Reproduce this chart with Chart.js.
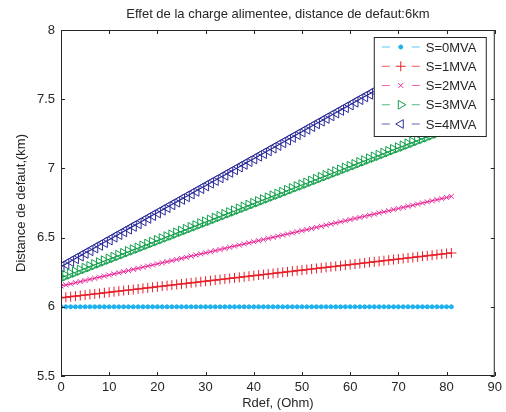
<!DOCTYPE html>
<html>
<head>
<meta charset="utf-8">
<script src="https://cdn.jsdelivr.net/npm/chart.js@4"></script>
<style>
  html, body { margin: 0; padding: 0; background: #fff; }
  #wrap { width: 506px; height: 412px; }
</style>
</head>
<body>
<div id="wrap"><canvas id="chart" width="506" height="412"></canvas></div>
<script>
// Rdef values (Ohm)
const rdef = [0,1,2,3,4,5,6,7,8,9,10,11,12,13,14,15,16,17,18,19,20,21,22,23,24,25,26,27,28,29,30,31,32,33,34,35,36,37,38,39,40,41,42,43,44,45,46,47,48,49,50,51,52,53,54,55,56,57,58,59,60,61,62,63,64,65,66,67,68,69,70,71,72,73,74,75,76,77,78,79,80,81];

// distance de defaut (km) for each load
const s0 = [6,6,6,6,6,6,6,6,6,6,6,6,6,6,6,6,6,6,6,6,6,6,6,6,6,6,6,6,6,6,6,6,6,6,6,6,6,6,6,6,6,6,6,6,6,6,6,6,6,6,6,6,6,6,6,6,6,6,6,6,6,6,6,6,6,6,6,6,6,6,6,6,6,6,6,6,6,6,6,6,6,6];
const s1 = [6.065,6.069,6.073,6.077,6.081,6.085,6.089,6.093,6.097,6.101,6.105,6.109,6.113,6.117,6.121,6.125,6.129,6.133,6.137,6.141,6.145,6.149,6.153,6.157,6.161,6.165,6.169,6.173,6.177,6.181,6.185,6.189,6.193,6.197,6.201,6.205,6.209,6.213,6.217,6.221,6.225,6.229,6.233,6.237,6.241,6.245,6.249,6.253,6.257,6.261,6.265,6.269,6.273,6.277,6.281,6.285,6.289,6.293,6.297,6.301,6.305,6.309,6.313,6.317,6.321,6.325,6.329,6.333,6.337,6.341,6.345,6.349,6.353,6.357,6.361,6.365,6.369,6.373,6.377,6.381,6.385,6.389];
const s2 = [6.150,6.158,6.166,6.174,6.182,6.190,6.198,6.206,6.214,6.222,6.230,6.238,6.246,6.254,6.262,6.270,6.278,6.286,6.294,6.302,6.310,6.318,6.326,6.334,6.342,6.350,6.358,6.366,6.374,6.382,6.390,6.398,6.406,6.414,6.422,6.430,6.438,6.446,6.454,6.462,6.470,6.478,6.486,6.494,6.502,6.510,6.518,6.526,6.534,6.542,6.550,6.558,6.566,6.574,6.582,6.590,6.598,6.606,6.614,6.622,6.630,6.638,6.646,6.654,6.662,6.670,6.678,6.686,6.694,6.702,6.710,6.718,6.726,6.734,6.742,6.750,6.758,6.766,6.774,6.782,6.790,6.798];
const s3 = [6.210,6.223,6.237,6.250,6.264,6.277,6.290,6.304,6.317,6.331,6.344,6.357,6.371,6.384,6.398,6.411,6.424,6.438,6.451,6.465,6.478,6.491,6.505,6.518,6.532,6.545,6.558,6.572,6.585,6.599,6.612,6.625,6.639,6.652,6.666,6.679,6.692,6.706,6.719,6.733,6.746,6.759,6.773,6.786,6.800,6.813,6.826,6.840,6.853,6.867,6.880,6.893,6.907,6.920,6.934,6.947,6.960,6.974,6.987,7.001,7.014,7.027,7.041,7.054,7.068,7.081,7.094,7.108,7.121,7.135,7.148,7.161,7.175,7.188,7.202,7.215,7.228,7.242,7.255,7.269,7.282,7.295];
const s4 = [6.290,6.310,6.329,6.349,6.368,6.388,6.407,6.427,6.446,6.466,6.485,6.505,6.524,6.544,6.563,6.583,6.602,6.622,6.641,6.661,6.680,6.700,6.719,6.739,6.758,6.778,6.797,6.817,6.836,6.856,6.875,6.895,6.914,6.934,6.953,6.973,6.992,7.012,7.031,7.051,7.070,7.090,7.109,7.129,7.148,7.168,7.187,7.207,7.226,7.246,7.265,7.285,7.304,7.324,7.343,7.363,7.382,7.402,7.421,7.441,7.460,7.480,7.499,7.519,7.538,7.558,7.577,7.597,7.616,7.636,7.655,7.675,7.694,7.714,7.733,7.753,7.772,7.792,7.811,7.831,7.850,7.870];

const seriesLabels = ["S=0MVA", "S=1MVA", "S=2MVA", "S=3MVA", "S=4MVA"];
const xTicks = [0, 10, 20, 30, 40, 50, 60, 70, 80, 90];
const yTicks = [5.5, 6, 6.5, 7, 7.5, 8];

const FONT = "'Liberation Sans', Arial, Helvetica, sans-serif";
const TEXT = "#262626";

const styles = [
  { color: "#1eb1ec", pointStyle: "circle", radius: 2, rotation: 0, fill: true },
  { color: "#e8202a", pointStyle: "cross", radius: 5, rotation: 0 },
  { color: "#ec2f9b", pointStyle: "crossRot", radius: 3.5, rotation: 0 },
  { color: "#13a04c", pointStyle: "triangle", radius: 6, rotation: 90 },
  { color: "#2b2b99", pointStyle: "triangle", radius: 6, rotation: 270 },
];

const allSeries = [s0, s1, s2, s3, s4];

const datasets = allSeries.map((vals, i) => ({
  label: seriesLabels[i],
  data: rdef.map((x, k) => ({ x: x, y: vals[k] })),
  borderColor: styles[i].color,
  backgroundColor: styles[i].fill ? styles[i].color : "rgba(0,0,0,0)",
  borderWidth: 1.2,
  pointStyle: styles[i].pointStyle,
  pointRadius: styles[i].radius,
  pointRotation: styles[i].rotation,
  pointBorderColor: styles[i].color,
  pointBackgroundColor: styles[i].fill ? styles[i].color : "rgba(0,0,0,0)",
  pointBorderWidth: 1,
  tension: 0,
}));

// MATLAB-like box, inward ticks and legend
const matlabFrame = {
  id: "matlabFrame",
  afterDraw(chart) {
    const { ctx, chartArea: a, scales } = chart;
    const xs = scales.x, ys = scales.y;
    ctx.save();
    ctx.strokeStyle = TEXT;
    ctx.lineWidth = 1;
    ctx.beginPath();
    xTicks.forEach((v) => {
      const px = Math.round(xs.getPixelForValue(v)) + 0.5;
      ctx.moveTo(px, a.bottom); ctx.lineTo(px, a.bottom - 4);
      ctx.moveTo(px, a.top); ctx.lineTo(px, a.top + 4);
    });
    yTicks.forEach((v) => {
      const py = Math.round(ys.getPixelForValue(v)) + 0.5;
      ctx.moveTo(a.left, py); ctx.lineTo(a.left + 4, py);
      ctx.moveTo(a.right, py); ctx.lineTo(a.right - 4, py);
    });
    ctx.stroke();
    ctx.strokeRect(a.left + 0.5, a.top + 0.5, a.right - a.left - 1, a.bottom - a.top - 1);

    // legend
    const bw = 112, bh = 99;
    const bx = a.right - 9 - bw, by = a.top + 7;
    ctx.fillStyle = "#fff";
    ctx.fillRect(bx, by, bw, bh);
    ctx.strokeRect(bx + 0.5, by + 0.5, bw, bh);
    ctx.font = "13px " + FONT;
    ctx.textBaseline = "middle";
    ctx.textAlign = "left";
    seriesLabels.forEach((lab, i) => {
      const st = styles[i];
      const cy = by + 10 + i * 19.25;
      const lx = bx + 8;
      ctx.strokeStyle = st.color;
      ctx.globalAlpha = 0.75;
      ctx.beginPath();
      ctx.moveTo(lx, cy); ctx.lineTo(lx + 8, cy);
      ctx.moveTo(lx + 30, cy); ctx.lineTo(lx + 38, cy);
      ctx.stroke();
      ctx.globalAlpha = 1;
      ctx.fillStyle = st.fill ? st.color : "rgba(0,0,0,0)";
      Chart.helpers.drawPoint(ctx, {
        pointStyle: st.pointStyle,
        radius: Math.min(st.radius, 5),
        rotation: st.rotation,
        borderWidth: 1,
      }, lx + 19, cy);
      ctx.fillStyle = TEXT;
      ctx.fillText(lab, bx + 52, cy + 1);
    });
    ctx.restore();
  },
};

new Chart(document.getElementById("chart").getContext("2d"), {
  type: "line",
  data: { datasets: datasets },
  plugins: [matlabFrame],
  options: {
    responsive: false,
    animation: false,
    devicePixelRatio: 1,
    layout: { padding: { left: 14, right: 8, top: 0, bottom: 0 } },
    plugins: {
      legend: { display: false },
      tooltip: { enabled: false },
      title: {
        display: true,
        fullSize: false,
        text: "Effet de la charge alimentee, distance de defaut:6km",
        color: TEXT,
        font: { family: FONT, size: 13, weight: "normal", lineHeight: 1.2 },
        padding: { top: 6.4, bottom: 8 },
      },
    },
    scales: {
      x: {
        type: "linear",
        min: 0,
        max: 90,
        afterFit: (s) => { s.height = 36; },
        afterBuildTicks: (s) => { s.ticks = xTicks.map((v) => ({ value: v })); },
        grid: { display: false, drawTicks: false },
        border: { display: false },
        ticks: { color: TEXT, padding: 4, font: { family: FONT, size: 13 }, maxRotation: 0,
                 callback: (v) => String(v) },
        title: {
          display: true,
          text: "Rdef, (Ohm)",
          color: TEXT,
          font: { family: FONT, size: 13, lineHeight: 1.2 },
          padding: { top: 0, bottom: 1 },
        },
      },
      y: {
        type: "linear",
        min: 5.5,
        max: 8,
        afterFit: (s) => { s.width = 47; },
        afterBuildTicks: (s) => { s.ticks = yTicks.map((v) => ({ value: v })); },
        grid: { display: false, drawTicks: false },
        border: { display: false },
        ticks: { color: TEXT, padding: 6, font: { family: FONT, size: 13 },
                 callback: (v) => String(v) },
        title: {
          display: true,
          text: "Distance de defaut,(km)",
          color: TEXT,
          font: { family: FONT, size: 13, lineHeight: 1.2 },
          padding: { top: 0, bottom: 0 },
        },
      },
    },
  },
});
</script>
</body>
</html>
